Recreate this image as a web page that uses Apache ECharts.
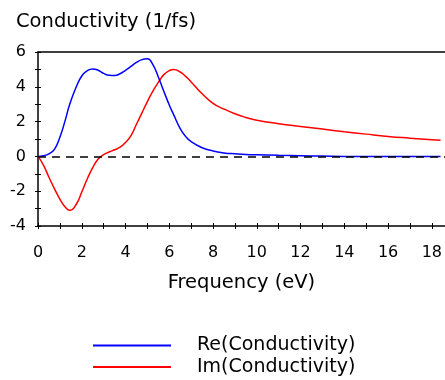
<!DOCTYPE html>
<html><head><meta charset="utf-8">
<script src="https://cdn.jsdelivr.net/npm/echarts@6/dist/echarts.min.js"></script>
<style>html,body{margin:0;padding:0;background:#fff}#c{width:445px;height:380px}</style>
</head><body><div id="c"></div>
<script>
var freq = [0,0.25,0.5,0.75,1.0,1.25,1.45,1.75,2.0,2.25,2.5,2.75,3.0,3.25,3.5,3.75,4.0,4.25,4.5,4.75,5.0,5.25,5.5,5.75,6.0,6.2,6.5,6.75,7.0,7.5,8,8.5,9,9.5,10,11,12,13,14,15,16,17,18,18.4];
var reCond = [0,0.04,0.15,0.4,1.1,2.1,3.0,4.0,4.62,4.92,5.03,4.95,4.77,4.66,4.65,4.75,4.95,5.17,5.4,5.56,5.61,5.27,4.56,3.75,2.95,2.4,1.6,1.15,0.85,0.5,0.31,0.2,0.15,0.11,0.09,0.06,0.04,0.02,0,0,0,0,0,0];
var imCond = [0,-0.5,-1.2,-1.85,-2.45,-2.92,-3.1,-2.75,-2.05,-1.3,-0.65,-0.15,0.1,0.25,0.38,0.53,0.8,1.2,1.85,2.5,3.15,3.75,4.25,4.7,4.93,5.0,4.85,4.6,4.28,3.6,3.05,2.72,2.45,2.24,2.08,1.88,1.72,1.57,1.42,1.28,1.15,1.05,0.96,0.93];
var seriesNames = ['Re(Conductivity)','Im(Conductivity)'];
var titleText = 'Conductivity (1/fs)';
var xName = 'Frequency (eV)';

function pairs(xs, ys){ return xs.map(function(x,i){return [x, ys[i]];}); }
var font = 'DejaVu Sans';
var chart = echarts.init(document.getElementById('c'));
chart.setOption({
  animation:false,
  title:{text:titleText, left:16, top:12, padding:0, textStyle:{fontFamily:font,fontSize:19.5,fontWeight:'normal',color:'#000'}},
  grid:{left:38, top:52, right:0, bottom:154, containLabel:false},
  legend:{orient:'vertical', left:93, top:336, padding:0, height:44, itemWidth:78, itemHeight:2, itemGap:2.5, icon:'rect',
    textStyle:{fontFamily:font,fontSize:19,lineHeight:19,color:'#000',padding:[0,0,0,21]}, data:seriesNames},
  xAxis:[
    {type:'value', min:0, max:18.6, interval:2, position:'bottom',
     axisLine:{show:true, onZero:false, lineStyle:{color:'#000',width:1.5}},
     axisTick:{show:true, inside:false, length:3, lineStyle:{color:'#000',width:1}},
     minorTick:{show:true, splitNumber:2, length:3, lineStyle:{color:'#000',width:1}},
     axisLabel:{margin:19, fontFamily:font, fontSize:16, color:'#000', showMaxLabel:false,
       formatter:function(v){return (v%2===0 && v<=18)? String(v):'';}},
     splitLine:{show:false}, minorSplitLine:{show:false},
     name:xName, nameLocation:'middle', nameGap:47, nameTextStyle:{fontFamily:font,fontSize:19.5,color:'#000'}},
    {type:'value', min:0, max:18.6, interval:2, position:'bottom', gridIndex:0,
     axisLine:{show:false, onZero:false}, axisTick:{show:true, inside:true, length:3, lineStyle:{color:'#000',width:1}},
     minorTick:{show:true, splitNumber:2, length:3, lineStyle:{color:'#000',width:1}},
     axisLabel:{show:false}, splitLine:{show:false}},
    {type:'value', min:0, max:18.6, position:'top',
     axisLine:{show:true, onZero:false, lineStyle:{color:'#000',width:1.5}}, axisTick:{show:false}, axisLabel:{show:false}, splitLine:{show:false}}
  ],
  yAxis:[
    {type:'value', min:-4, max:6, interval:2, position:'left',
     axisLine:{show:true, onZero:false, lineStyle:{color:'#000',width:1.5}},
     axisTick:{show:true, inside:false, length:3, lineStyle:{color:'#000',width:1}},
     minorTick:{show:true, splitNumber:2, length:3, lineStyle:{color:'#000',width:1}},
     axisLabel:{margin:12, fontFamily:font, fontSize:16, color:'#000'},
     splitLine:{show:false}},
    {type:'value', min:-4, max:6, interval:2, position:'left', gridIndex:0,
     axisLine:{show:false, onZero:false}, axisTick:{show:true, inside:true, length:3, lineStyle:{color:'#000',width:1}},
     minorTick:{show:true, splitNumber:2, length:3, lineStyle:{color:'#000',width:1}},
     axisLabel:{show:false}, splitLine:{show:false}}
  ],
  series:[
    {name:seriesNames[1], type:'line', data:pairs(freq, imCond), smooth:0.5, showSymbol:false, symbol:'none',
     lineStyle:{color:'#ff0000', width:1.5}, itemStyle:{color:'#ff0000'}, z:2,
     markLine:{silent:true, symbol:'none', label:{show:false}, lineStyle:{color:'#000', type:[8,6], width:1.5},
       data:[[{coord:[0,0]},{coord:[18.6,0]}]]}},
    {name:seriesNames[0], type:'line', data:pairs(freq, reCond), smooth:0.5, showSymbol:false, symbol:'none',
     lineStyle:{color:'#0000ff', width:1.5}, itemStyle:{color:'#0000ff'}, z:3}
  ]
});
</script></body></html>
